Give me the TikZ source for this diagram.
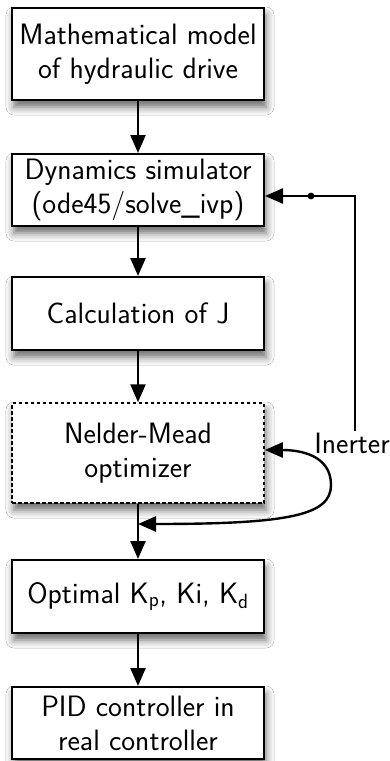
\documentclass[tikz,border=0pt]{standalone}
\usetikzlibrary{arrows.meta,shadows.blur}
\begin{document}
\begin{tikzpicture}[x=1pt,y=-1pt,
  font=\sffamily\fontsize{29.5}{34}\selectfont,
  box/.style={draw, line width=2pt, fill=white, minimum width=252pt,
    align=center, inner sep=0pt,
    blur shadow={shadow xshift=2pt, shadow yshift=-7pt,
      shadow blur radius=8pt, shadow opacity=60}},
  dbox/.style={box, dash pattern=on 3.5pt off 2.5pt, line width=1.5pt},
  tip/.tip={Triangle[length=18pt,width=15pt]},
  arr/.style={line width=2.4pt, -tip},
  darr/.style={line width=2.4pt, tip-tip}]

% canvas
\fill[white] (0,0) rectangle (390,761);
\useasboundingbox (0,0) rectangle (390,761);

% flow blocks
\node[box, minimum height=92pt] (model) at (138,54)
  {Mathematical model\\of hydraulic drive};
\node[box, minimum height=72pt] (sim) at (138,190)
  {Dynamics simulator\\(ode45/solve\_ivp)};
\node[box, minimum height=73pt] (calc) at (138,313.5)
  {Calculation of J};
\node[dbox, minimum height=100pt] (nm) at (138,453)
  {Nelder-Mead\\optimizer};
\node[box, minimum height=73pt] (opt) at (138,596.5)
  {Optimal K\textsubscript{p}, Ki, K\textsubscript{d}};
\node[box, minimum height=72pt] (pid) at (138,723)
  {PID controller in\\real controller};

% main chain
\draw[arr] (model) -- (sim);
\draw[arr] (sim) -- (calc);
\draw[arr] (calc) -- (nm);
\draw[arr] (nm) -- (opt);
\draw[arr] (opt) -- (pid);

% inerter feedback
\node[inner sep=1pt] (inerter) at (352,443) {Inerter};
\coordinate (corner) at (355,196);
\coordinate (tap) at (311,196);
\draw[arr] (inerter.north -| corner) -- (corner) -- (sim.east |- corner);
\fill (tap) circle (3.4pt);

% optimizer loop
\coordinate (join) at (nm.south |- 0,524);
\coordinate (nmin) at (nm.east |- 0,450);
\draw[darr] (join) .. controls (290,524) and (331,515) .. (331,485)
  .. controls (331,455) and (300,450) .. (nmin);
\end{tikzpicture}
\end{document}
